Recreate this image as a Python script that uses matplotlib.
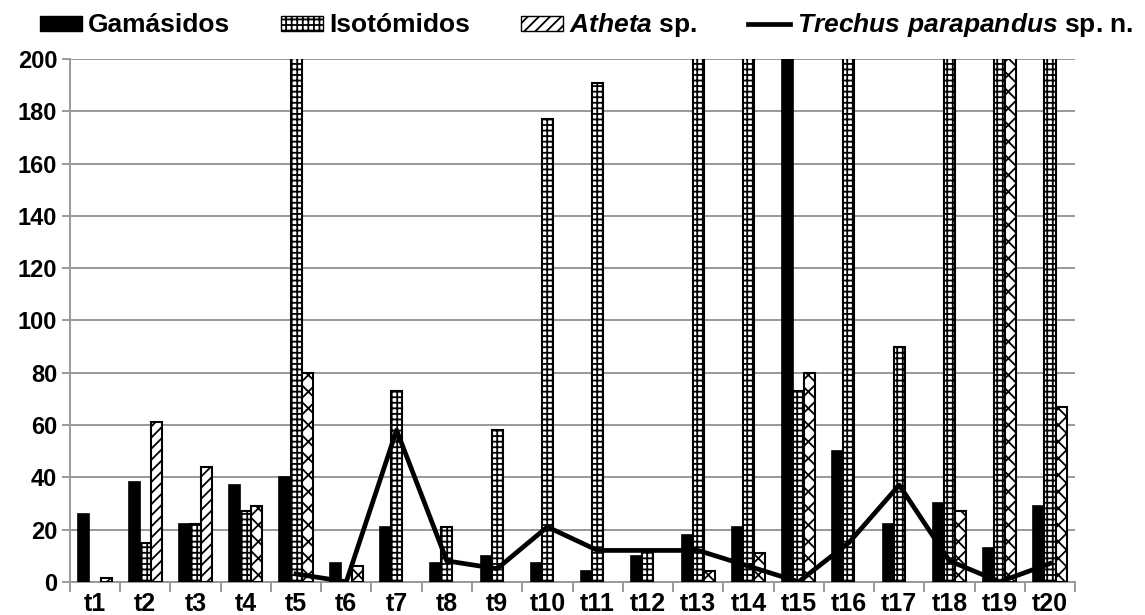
import numpy as np
import matplotlib.pyplot as plt
from matplotlib.patches import Patch
from matplotlib.lines import Line2D

plt.rcParams['font.family'] = ['Liberation Sans', 'DejaVu Sans']
plt.rcParams['font.weight'] = 'bold'
plt.rcParams['mathtext.fontset'] = 'custom'
plt.rcParams['mathtext.it'] = 'Liberation Sans:italic:bold'
plt.rcParams['mathtext.rm'] = 'Liberation Sans:bold'
plt.rcParams['hatch.linewidth'] = 1.3

#--------------------------------------
# datos (los valores > 200 salen cortados en el original)
#--------------------------------------
muestras = ['t1', 't2', 't3', 't4', 't5', 't6', 't7', 't8', 't9', 't10',
            't11', 't12', 't13', 't14', 't15', 't16', 't17', 't18', 't19', 't20']
gamasidos = [26, 38, 22, 37, 40, 7, 21, 7, 10, 7,
             4, 10, 18, 21, 250, 50, 22, 30, 13, 29]
isotomidos = [0, 15, 22, 27, 250, 0, 73, 21, 58, 177,
              191, 12, 250, 250, 73, 250, 90, 250, 250, 250]
atheta = [1.5, 61, 44, 29, 80, 6, 0, 0, 0, 0,
          0, 0, 4, 11, 80, 0, 0, 27, 250, 67]
trechus = [np.nan, np.nan, np.nan, np.nan, 3, 0, 58, 8, 5, 21,
           12, 12, 12, 6, 0, 15, 37, 8, 0, 7]

x = np.arange(len(muestras))
w = 0.22

fig = plt.figure(figsize=(11.45, 6.15), dpi=100)
ax = fig.add_axes([0.061, 0.054, 0.878, 0.85])

b1 = ax.bar(x - w, gamasidos, w, color='black', edgecolor='black', linewidth=1.2, zorder=3)
b2 = ax.bar(x, isotomidos, w, color='white', edgecolor='black', hatch='+++', linewidth=1.5, zorder=3)
b3 = ax.bar(x + w, atheta, w, color='white', edgecolor='black', hatch='xx', linewidth=1.5, zorder=3)
for i in range(3):
    b3[i].set_hatch('///')
# las barras con valor 0 no se ven
for barras in (b1, b2, b3):
    for b in barras:
        if b.get_height() == 0:
            b.set_visible(False)
ax.plot(x, trechus, color='black', lw=3.4, zorder=4)

ax.set_ylim(0, 200)
ax.set_xlim(-0.5, len(muestras) - 0.5)
ax.set_yticks(np.arange(0, 201, 20))
ax.grid(axis='y', color='#999999', lw=1.4, zorder=0)
ax.set_xticks(x)
ax.set_xticklabels(muestras)
ax.set_xticks(np.arange(-0.5, len(muestras), 1), minor=True)
ax.tick_params(axis='x', which='major', length=0, labelsize=18, pad=7)
ax.tick_params(axis='x', which='minor', length=7, color='#999999', width=1.4, direction='out')
ax.tick_params(axis='y', length=6, color='#999999', width=1.4, labelsize=17, pad=3)
for s in ['top', 'right']:
    ax.spines[s].set_visible(False)
for s in ['left', 'bottom']:
    ax.spines[s].set_color('#999999')
    ax.spines[s].set_linewidth(1.4)

handles = [Patch(facecolor='black', edgecolor='black'),
           Patch(facecolor='white', edgecolor='black', hatch='+++'),
           Patch(facecolor='white', edgecolor='black', hatch='///'),
           Line2D([0], [0], color='black', lw=3.4)]
labels = ['Gamásidos', 'Isotómidos', r'$\mathit{Atheta}$ sp.',
          r'$\mathit{Trechus\ parapandus}$ sp. n.']
fig.legend(handles, labels, loc='upper center', bbox_to_anchor=(0.512, 1.02), ncol=4,
           frameon=False, fontsize=19, handlelength=1.6, handleheight=0.5,
           handletextpad=0.25, columnspacing=1.9)

plt.savefig('out.png', dpi=100)
